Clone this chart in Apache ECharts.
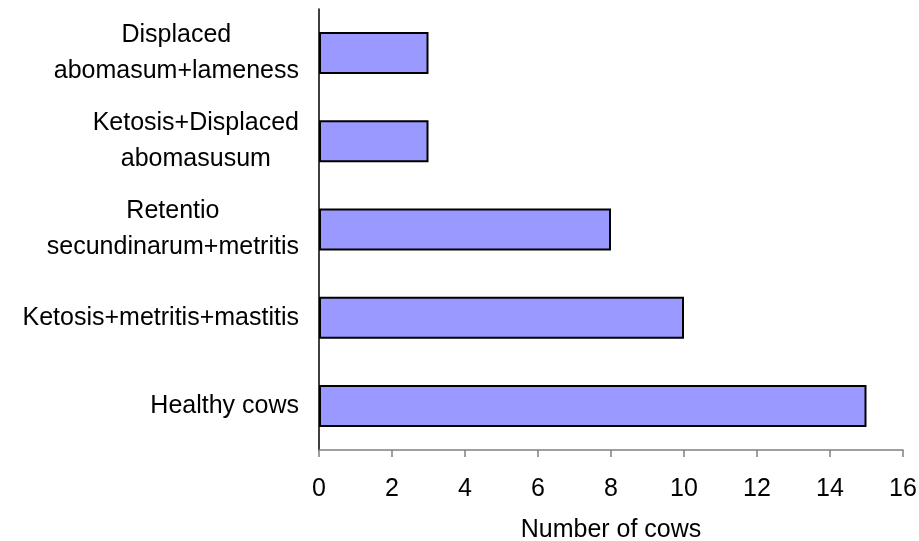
<!DOCTYPE html>
<html>
<head>
<meta charset="utf-8">
<script src="https://cdn.jsdelivr.net/npm/echarts@6/dist/echarts.min.js"></script>
<style>
  html, body { margin: 0; padding: 0; background: #fff; }
  #chart { width: 919px; height: 541px; }
</style>
</head>
<body>
<div id="chart"></div>
<script>
// Groups of cows, listed top to bottom; "\n" splits the two-line labels
const categories = [
  'Displaced\nabomasum+lameness',
  'Ketosis+Displaced\nabomasusum',
  'Retentio\nsecundinarum+metritis',
  'Ketosis+metritis+mastitis',
  'Healthy cows'
];
const cowCounts = [3, 3, 8, 10, 15];
const xTicks = { min: 0, max: 16, step: 2 };
const xAxisTitle = 'Number of cows';

const FONT = '"Liberation Sans", Arial, sans-serif';
const FS = 25;

const chart = echarts.init(document.getElementById('chart'), null, { renderer: 'canvas' });

chart.setOption({
  animation: false,
  backgroundColor: '#ffffff',
  grid: { left: 319, right: 16, top: 9, bottom: 91, containLabel: false, outerBoundsMode: 'none' },
  xAxis: {
    type: 'value',
    min: xTicks.min,
    max: xTicks.max,
    interval: xTicks.step,
    name: xAxisTitle,
    nameLocation: 'middle',
    nameGap: 68,
    nameTextStyle: { fontFamily: FONT, fontSize: FS, color: '#000' },
    axisLine: { show: true, lineStyle: { color: '#808080', width: 1.5 } },
    axisTick: { show: true, inside: false, length: 7, lineStyle: { color: '#808080', width: 1.5 } },
    axisLabel: { fontFamily: FONT, fontSize: FS, color: '#000', margin: 27 },
    splitLine: { show: false }
  },
  yAxis: {
    type: 'category',
    inverse: true,
    data: categories,
    axisLine: { show: true, lineStyle: { color: '#000', width: 1.5 } },
    axisTick: { show: false },
    axisLabel: {
      margin: 20,
      fontFamily: FONT,
      fontSize: FS,
      color: '#000',
      lineHeight: 36,
      align: 'right',
      formatter: function (v) {
        return v.split('\n').map(function (s) { return '{c|' + s + '}'; }).join('\n');
      },
      rich: {
        c: { align: 'center', fontFamily: FONT, fontSize: FS, lineHeight: 36, color: '#000' }
      }
    },
    splitLine: { show: false }
  },
  series: [{
    type: 'bar',
    data: cowCounts,
    barWidth: 42,
    itemStyle: { color: '#9999ff', borderColor: '#000', borderWidth: 2 },
    silent: true
  }]
});
</script>
</body>
</html>
